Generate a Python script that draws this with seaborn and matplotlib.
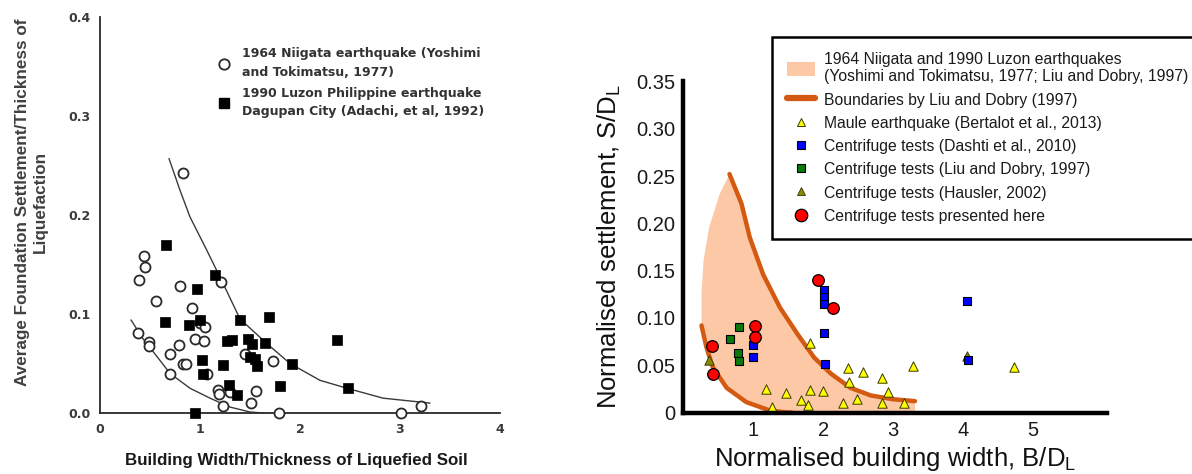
import numpy as np
import pandas as pd
import matplotlib
matplotlib.use("Agg")
import matplotlib.pyplot as plt
from matplotlib.lines import Line2D
from matplotlib.patches import Patch
import seaborn as sns

sns.set_theme(style="white")
plt.rcParams['font.family'] = ['Liberation Sans', 'DejaVu Sans']
plt.rcParams['mathtext.fontset'] = 'custom'
plt.rcParams['mathtext.rm'] = 'Liberation Sans'

# ---------------- Left panel data ----------------
niigata_x = [0.83, 0.44, 0.45, 0.39, 0.80, 1.21, 0.56, 0.92, 0.38, 0.49, 0.49, 0.95,
             1.00, 1.05, 1.04, 0.79, 0.70, 0.83, 0.86, 0.70, 1.07, 1.45, 1.73, 1.18,
             1.19, 1.30, 1.56, 1.51, 1.23, 1.79, 3.01, 3.21]
niigata_y = [0.242, 0.159, 0.147, 0.134, 0.128, 0.132, 0.113, 0.106, 0.081, 0.072, 0.068, 0.075,
             0.091, 0.087, 0.073, 0.069, 0.060, 0.050, 0.050, 0.039, 0.039, 0.060, 0.053, 0.023,
             0.019, 0.021, 0.022, 0.010, 0.007, 0.0, 0.0, 0.007]
luzon_x = [0.66, 1.15, 0.97, 0.65, 0.89, 1.00, 1.40, 1.69, 1.27, 1.32, 1.48, 1.52,
           1.65, 1.50, 1.55, 1.57, 1.02, 1.23, 1.03, 1.92, 1.29, 1.37, 1.80, 0.95,
           2.37, 2.48]
luzon_y = [0.170, 0.139, 0.125, 0.092, 0.089, 0.094, 0.094, 0.097, 0.073, 0.074, 0.075, 0.070,
           0.071, 0.057, 0.055, 0.047, 0.054, 0.048, 0.039, 0.050, 0.028, 0.018, 0.027, 0.0,
           0.074, 0.025]
left_upper_x = [0.69, 0.80, 0.90, 1.07, 1.23, 1.40, 1.67, 1.90, 2.20, 2.47, 2.83, 3.30]
left_upper_y = [0.257, 0.225, 0.198, 0.164, 0.131, 0.095, 0.070, 0.050, 0.033, 0.025, 0.015, 0.010]
left_lower_x = [0.31, 0.43, 0.57, 0.70, 0.90, 1.10, 1.30, 1.50, 1.63]
left_lower_y = [0.094, 0.075, 0.057, 0.040, 0.025, 0.015, 0.006, 0.001, 0.0]
left_xticks = [0, 1, 2, 3, 4]
left_yticks = [0.0, 0.1, 0.2, 0.3, 0.4]
left_yticklabels = ['0.0', '0.1', '0.2', '0.3', '0.4']

# ---------------- Right panel data ----------------
maule_x = [1.18, 1.26, 1.46, 1.68, 1.78, 1.81, 2.00, 1.81, 2.28, 2.35, 2.36, 2.48,
           2.57, 2.84, 2.84, 2.92, 3.15, 3.28, 4.72]
maule_y = [0.025, 0.006, 0.021, 0.013, 0.008, 0.024, 0.023, 0.073, 0.010, 0.047, 0.032, 0.014,
           0.043, 0.036, 0.010, 0.022, 0.010, 0.049, 0.048]
dashti_x = [0.99, 0.99, 2.01, 2.01, 2.01, 2.01, 2.02, 4.05, 4.07]
dashti_y = [0.071, 0.059, 0.130, 0.122, 0.115, 0.084, 0.051, 0.118, 0.056]
liu_x = [0.67, 0.79, 0.78, 0.79]
liu_y = [0.078, 0.090, 0.063, 0.054]
hausler_x = [0.37, 4.05]
hausler_y = [0.055, 0.060]
here_x = [0.41, 0.42, 1.02, 1.02, 1.93, 2.14]
here_y = [0.070, 0.041, 0.091, 0.080, 0.140, 0.110]
right_upper_x = [0.66, 0.83, 0.95, 1.14, 1.38, 1.63, 1.87, 2.11, 2.39, 2.68, 3.00, 3.31]
right_upper_y = [0.252, 0.221, 0.185, 0.146, 0.111, 0.083, 0.058, 0.041, 0.026, 0.018, 0.014, 0.012]
right_lower_x = [0.26, 0.33, 0.42, 0.62, 0.90, 1.24, 1.48, 1.55]
right_lower_y = [0.092, 0.069, 0.048, 0.026, 0.011, 0.002, 0.0, 0.0]
shade_left_x = [0.26, 0.26, 0.29, 0.37, 0.52, 0.66]
shade_left_y = [0.093, 0.126, 0.161, 0.196, 0.231, 0.252]
shade_right_x = [3.31]
shade_right_y = [0.0]
right_xticks = [1, 2, 3, 4, 5]
right_yticks = [0, 0.05, 0.10, 0.15, 0.20, 0.25, 0.30, 0.35]
right_yticklabels = ['0', '0.05', '0.10', '0.15', '0.20', '0.25', '0.30', '0.35']

legend_left_labels = ['1964 Niigata earthquake (Yoshimi\nand Tokimatsu, 1977)',
                      '1990 Luzon Philippine earthquake\nDagupan City (Adachi, et al, 1992)']
legend_right_labels = ['1964 Niigata and 1990 Luzon earthquakes\n(Yoshimi and Tokimatsu, 1977; Liu and Dobry, 1997)',
                       'Boundaries by Liu and Dobry (1997)',
                       'Maule earthquake (Bertalot et al., 2013)',
                       'Centrifuge tests (Dashti et al., 2010)',
                       'Centrifuge tests (Liu and Dobry, 1997)',
                       'Centrifuge tests (Hausler, 2002)',
                       'Centrifuge tests presented here']

W, H = 1192, 474
fig = plt.figure(figsize=(W / 100, H / 100), dpi=100)
fig.patch.set_facecolor('white')

# ================= LEFT PANEL =================
axL = fig.add_axes([100 / W, 1 - 413 / H, 400 / W, 396 / H])
axL.set_facecolor('white')
ink = '#2a2a2a'
sns.lineplot(x=left_upper_x, y=left_upper_y, ax=axL, sort=False, estimator=None,
             color='#3a3a3a', lw=1.0)
sns.lineplot(x=left_lower_x, y=left_lower_y, ax=axL, sort=False, estimator=None,
             color='#3a3a3a', lw=1.0)
sns.scatterplot(x=niigata_x, y=niigata_y, ax=axL, marker='o', s=52,
                facecolor='white', edgecolor=ink, linewidth=1.3, zorder=3, clip_on=False)
sns.scatterplot(x=luzon_x, y=luzon_y, ax=axL, marker='s', s=44,
                color='black', edgecolor='black', linewidth=0.5, zorder=4, clip_on=False)
axL.set_xlim(0, 4)
axL.set_ylim(0, 0.4)
axL.set_xticks(left_xticks)
axL.set_xticklabels([str(v) for v in left_xticks])
axL.set_yticks(left_yticks)
axL.set_yticklabels(left_yticklabels)
for s in ['top', 'right']:
    axL.spines[s].set_visible(False)
for s in ['left', 'bottom']:
    axL.spines[s].set_color(ink)
    axL.spines[s].set_linewidth(1.3)
axL.tick_params(direction='in', length=4, width=1, color=ink, labelcolor='#3a3a3a',
                labelsize=9, pad=7)
for lab in axL.get_xticklabels() + axL.get_yticklabels():
    lab.set_fontfamily('DejaVu Sans')
    lab.set_fontweight('bold')
axL.set_ylabel('Average Foundation Settlement/Thickness of\nLiquefaction',
               fontsize=12.3, fontweight='bold', color='#404040',
               linespacing=1.25)
axL.yaxis.set_label_coords(-0.13, 0.533)
axL.set_xlabel('Building Width/Thickness of Liquefied Soil', fontsize=12.2,
               fontweight='bold', color='#1a1a1a')
axL.xaxis.set_label_coords(0.49, -0.1)
hL = [Line2D([], [], ls='none', marker='o', ms=7.5, mfc='white', mec=ink, mew=1.3),
      Line2D([], [], ls='none', marker='s', ms=6.5, mfc='black', mec='black')]
legL = axL.legend(hL, legend_left_labels, loc='upper left',
                  bbox_to_anchor=(218 / W, 1 - 47 / H), bbox_transform=fig.transFigure,
                  frameon=False, handlelength=1.0, handletextpad=0.9, labelspacing=0.6,
                  borderaxespad=0, borderpad=0,
                  prop={'family': 'DejaVu Sans', 'weight': 'bold', 'size': 9})
for t in legL.get_texts():
    t.set_color('#333333')
    t.set_linespacing(1.6)

# ================= RIGHT PANEL =================
axR = fig.add_axes([683.3 / W, 1 - 412.5 / H, 6.05 * 70 / W, 0.35 * 946 / H])
axR.set_facecolor('white')
fill_c = '#FCC8A6'
line_c = '#D45A12'
poly_x = shade_left_x + right_upper_x + shade_right_x + right_lower_x[::-1]
poly_y = shade_left_y + right_upper_y + shade_right_y + right_lower_y[::-1]
axR.fill(poly_x, poly_y, color=fill_c, lw=0, zorder=1)
sns.lineplot(x=right_upper_x, y=right_upper_y, ax=axR, sort=False, estimator=None,
             color=line_c, lw=3.2, zorder=2, solid_capstyle='round')
sns.lineplot(x=right_lower_x, y=right_lower_y, ax=axR, sort=False, estimator=None,
             color=line_c, lw=3.2, zorder=2, solid_capstyle='round')
sns.scatterplot(x=hausler_x, y=hausler_y, ax=axR, marker='^', s=46, color='#8A8A00',
                edgecolor='#333300', linewidth=0.6, zorder=3)
sns.scatterplot(x=maule_x, y=maule_y, ax=axR, marker='^', s=46, color='#FFFF00',
                edgecolor='#3a3a00', linewidth=0.7, zorder=4, clip_on=False)
sns.scatterplot(x=liu_x, y=liu_y, ax=axR, marker='s', s=30, color='#0A7A0A',
                edgecolor='black', linewidth=0.8, zorder=4)
sns.scatterplot(x=dashti_x, y=dashti_y, ax=axR, marker='s', s=30, color='#0000FF',
                edgecolor='black', linewidth=0.8, zorder=4)
sns.scatterplot(x=here_x, y=here_y, ax=axR, marker='o', s=70, color='#FF0000',
                edgecolor='black', linewidth=0.9, zorder=5)
axR.set_xlim(0, 6.05)
axR.set_ylim(0, 0.35)
axR.set_xticks(right_xticks)
axR.set_xticklabels([str(v) for v in right_xticks])
axR.set_yticks(right_yticks)
axR.set_yticklabels(right_yticklabels)
for s in ['top', 'right']:
    axR.spines[s].set_visible(False)
for s in ['left', 'bottom']:
    axR.spines[s].set_color('black')
    axR.spines[s].set_linewidth(3.2)
    axR.spines[s].set_zorder(6)
axR.tick_params(direction='in', length=5, width=3, color='black', labelcolor='#1a1a1a',
                labelsize=14.5, pad=6)
axR.set_ylabel('Normalised settlement, S/D$_\\mathregular{L}$', fontsize=18.5,
               color='#111111', labelpad=9)
axR.set_xlabel('Normalised building width, B/D$_\\mathregular{L}$', fontsize=18.5,
               color='#111111', labelpad=4)

hR = [Patch(facecolor=fill_c, edgecolor='none'),
      Line2D([], [], color=line_c, lw=4.5, solid_capstyle='round'),
      Line2D([], [], ls='none', marker='^', ms=6, mfc='#FFFF00', mec='#3a3a00', mew=0.7),
      Line2D([], [], ls='none', marker='s', ms=5.5, mfc='#0000FF', mec='black', mew=0.8),
      Line2D([], [], ls='none', marker='s', ms=5.5, mfc='#0A7A0A', mec='black', mew=0.8),
      Line2D([], [], ls='none', marker='^', ms=6, mfc='#8A8A00', mec='#333300', mew=0.6),
      Line2D([], [], ls='none', marker='o', ms=9, mfc='#FF0000', mec='black', mew=0.9)]
legR = fig.legend(hR, legend_right_labels, loc='upper left',
                  bbox_to_anchor=(772 / W, 1 - 37 / H), bbox_transform=fig.transFigure,
                  frameon=True, fancybox=False, framealpha=1, edgecolor='black',
                  borderaxespad=0, borderpad=0.95, handlelength=1.76, handleheight=1.0,
                  handletextpad=0.6, labelspacing=0.5,
                  prop={'family': 'Liberation Sans', 'size': 11.3})
legR.get_frame().set_linewidth(1.8)
for t in legR.get_texts():
    t.set_color('#1a1a1a')

fig.savefig('out.png', dpi=100, facecolor='white')
